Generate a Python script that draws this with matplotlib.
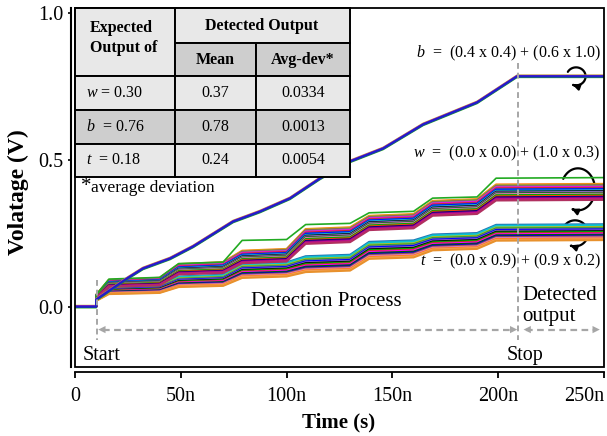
import numpy as np
import matplotlib
matplotlib.use('Agg')
import matplotlib.pyplot as plt
from matplotlib.patches import Rectangle, FancyArrowPatch
from matplotlib.path import Path
from matplotlib.transforms import Affine2D, ScaledTranslation

plt.rcParams['font.family'] = ['Liberation Serif', 'DejaVu Serif']
plt.rcParams['mathtext.fontset'] = 'custom'
plt.rcParams['mathtext.rm'] = 'Liberation Serif'
plt.rcParams['mathtext.it'] = 'Liberation Serif:italic'
plt.rcParams['mathtext.bf'] = 'Liberation Serif:bold'

# ---------------- data ----------------
# time knots in ns
T = np.array([0, 10, 10.01, 16, 40, 49, 70, 79, 100, 109, 130, 139, 160, 169, 190, 199, 250])

# b output: single tight bundle
b_time = np.array([0, 10, 10.01, 24.6, 32.1, 44.9, 55.8, 74.7, 87.4, 101.6, 115.8, 130, 145.6, 164.5, 190, 208.9, 250])
b_vals = np.array([0, 0, 0.024, 0.096, 0.130, 0.164, 0.205, 0.290, 0.324, 0.369, 0.437, 0.495, 0.539, 0.621, 0.696, 0.785, 0.785])

# w output bundle: centre and half-width at the knots
w_center = np.array([0, 0, 0.035, 0.080, 0.086, 0.128, 0.134, 0.170, 0.176, 0.240, 0.246, 0.286, 0.292, 0.336, 0.342, 0.390, 0.392])
w_halfw  = np.array([0, 0, 0.006, 0.012, 0.013, 0.018, 0.019, 0.022, 0.022, 0.026, 0.026, 0.025, 0.025, 0.026, 0.026, 0.028, 0.028])
w_outlier = np.array([0, 0, 0.040, 0.094, 0.100, 0.147, 0.152, 0.226, 0.229, 0.280, 0.284, 0.320, 0.325, 0.370, 0.374, 0.438, 0.440])
w_offsets = [0.95, 0.86, 0.78, 0.70, 0.58, 0.48, 0.36, 0.30, 0.18, 0.06, -0.03, -0.15, -0.24, -0.36, -0.50, -0.62, -0.74, -0.86, -1.0]
w_colors = ['#ff7f0e', '#bcbd22', '#8c564b', '#7f7f7f', '#ff00ff', '#d62728', '#1f77b4',
            '#0000ff', '#17becf', '#000000', '#9467bd', '#006400', '#e377c2', '#00aa00',
            '#ff4500', '#000080', '#8b008b', '#c71585', '#b03060']

# t output bundle
t_center = np.array([0, 0, 0.025, 0.055, 0.060, 0.085, 0.090, 0.122, 0.127, 0.145, 0.150, 0.192, 0.197, 0.219, 0.224, 0.252, 0.254])
t_halfw  = np.array([0, 0, 0.005, 0.012, 0.013, 0.018, 0.019, 0.024, 0.024, 0.027, 0.027, 0.029, 0.029, 0.027, 0.027, 0.027, 0.027])
t_offsets = [1.0, 0.88, 0.76, 0.66, 0.55, 0.44, 0.35, 0.22, 0.12, 0.02, -0.10, -0.20, -0.32, -0.45, -0.56, -0.68, -0.80, -0.90, -1.0]
t_colors = ['#1f77b4', '#17becf', '#00ced1', '#bcbd22', '#2ca02c', '#7f7f7f', '#0000ff',
            '#9467bd', '#000000', '#00aa00', '#d62728', '#ff00ff', '#006400', '#0000cd',
            '#8c564b', '#e377c2', '#ff7f0e', '#f4a460', '#e8912d']

x_ticks = [0, 50, 100, 150, 200, 250]
x_ticklabels = ['0', '50n', '100n', '150n', '200n', '250n']
y_ticks = [0.0, 0.5, 1.0]
y_ticklabels = ['0.0', '0.5', '1.0']

# table contents
tab_rows = [('$w$ = 0.30', '0.37', '0.0334'),
            ('$b$  = 0.76', '0.78', '0.0013'),
            ('$t$  = 0.18', '0.24', '0.0054')]

formulas = ['$b$  =  (0.4 x 0.4) + (0.6 x 1.0)',
            '$w$  =  (0.0 x 0.0) + (1.0 x 0.3)',
            '$t$  =  (0.0 x 0.9) + (0.9 x 0.2)']
formula_y = [0.863, 0.522, 0.154]

# ---------------- figure ----------------
W, H = 607, 436
fig = plt.figure(figsize=(W / 100, H / 100), dpi=100)
ax = fig.add_axes([75 / W, 1 - 367 / H, 529 / W, 359 / H])
ax.set_xlim(0, 250)
ax.set_ylim(-0.2055, 1.018)

# bundles
for off, col in zip(t_offsets, t_colors):
    ax.plot(T, t_center + off * t_halfw, color=col, lw=1.5, solid_joinstyle='round')
for off, col in zip(w_offsets, w_colors):
    ax.plot(T, w_center + off * w_halfw, color=col, lw=1.5, solid_joinstyle='round')
ax.plot(T, w_outlier, color='#22aa22', lw=1.2)

# b lines
ax.plot(b_time, b_vals + 0.004, color='#bcbd22', lw=1.1)
ax.plot(b_time, b_vals - 0.003, color='#22aa22', lw=1.3)
ax.plot(b_time, b_vals + 0.002, color='#cc00cc', lw=1.3)
ax.plot(b_time, b_vals, color='#2020c8', lw=1.7)

# dashed guide lines
gray = '#a6a6a6'
ax.plot([10.2, 10.2], [0.092, -0.115], ls=(0, (3, 2)), color=gray, lw=1.4)
ax.plot([209.5, 209.5], [0.83, -0.115], ls=(0, (3, 2)), color=gray, lw=1.4)
ya = -0.078
ax.plot([13, 207], [ya, ya], ls=(0, (3, 2)), color=gray, lw=1.6)
ax.plot([213, 245], [ya, ya], ls=(0, (3, 2)), color=gray, lw=1.6)
for x0, x1 in [(16, 11), (204, 209), (217, 212), (243, 248)]:
    ax.annotate('', xy=(x1, ya), xytext=(x0, ya),
                arrowprops=dict(arrowstyle='-|>', color=gray, lw=0.01, mutation_scale=13, shrinkA=0, shrinkB=0))

# texts inside plot
ax.text(118.6, 0.017, 'Detection Process', fontsize=15, ha='center', va='center')
ax.text(211.3, 0.003, 'Detected\noutput', fontsize=15, ha='left', va='center', linespacing=1.1)
ax.text(3.8, -0.165, 'Start', fontsize=14.5, ha='left', va='center')
ax.text(212.5, -0.165, 'Stop', fontsize=14.5, ha='center', va='center')
for s, yy in zip(formulas, formula_y):
    ax.text(248.5, yy, s, fontsize=11.5, ha='right', va='center')

# curled arrows
def curl(cx, cy, rx, ry):
    ang = np.radians(np.linspace(150, -112, 80))
    verts = np.column_stack([rx * np.cos(ang), ry * np.sin(ang)])
    tr = Affine2D() + ScaledTranslation(cx, cy, ax.transData)
    arr = FancyArrowPatch(path=Path(verts), arrowstyle='-|>', mutation_scale=9,
                          lw=1.6, color='k', transform=tr, clip_on=False)
    ax.add_artist(arr)

curl(236.8, 0.785, 9.5, 9)
curl(237.7, 0.40, 17, 21)
curl(236.3, 0.25, 13, 13)

# axes styling
ax.spines['top'].set_visible(False)
ax.spines['right'].set_visible(False)
ax.spines['left'].set_position(('outward', 3.2))
ax.spines['bottom'].set_position(('outward', 3.6))
ax.spines['left'].set_linewidth(1.5)
ax.spines['bottom'].set_linewidth(1.3)
ax.add_patch(Rectangle((0, 0), 1, 1, transform=ax.transAxes, fill=False, lw=1.3,
                       ec='k', clip_on=False, zorder=5))
ax.set_xticks(x_ticks)
ax.set_xticklabels(x_ticklabels)
ax.set_yticks(y_ticks)
ax.set_yticklabels(y_ticklabels)
ax.tick_params(axis='x', direction='out', length=4.5, width=1.3, pad=6, labelsize=14.5)
ax.tick_params(axis='y', direction='out', length=2.5, width=1.2, pad=2.5, labelsize=14.5)
ax.get_xticklabels()[-1].set_horizontalalignment('right')
ax.get_xticklabels()[-1].set_x(251)

fig.text(339 / W, 1 - 422 / H, 'Time (s)', fontsize=15, fontweight='bold', ha='center', va='center')
fig.text(18 / W, 1 - 192 / H, 'Volatage (V)', fontsize=17, fontweight='bold', ha='center',
         va='center', rotation=90)

# ---------------- table ----------------
def fx(px):
    return px / W

def fy(py):
    return 1 - py / H

light, dark = '#e8e8e8', '#cecece'
cells = [((75, 8, 175, 76), light), ((175, 8, 350, 43), light), ((175, 43, 256, 76), dark),
         ((256, 43, 350, 76), dark)]
row_y = [(76, 110), (110, 144), (144, 177)]
row_fill = [light, dark, light]
cols = [(75, 175), (175, 256), (256, 350)]
for (y0, y1), fc in zip(row_y, row_fill):
    for (x0, x1) in cols:
        cells.append(((x0, y0, x1, y1), fc))
for (x0, y0, x1, y1), fc in cells:
    fig.add_artist(Rectangle((fx(x0), fy(y1)), fx(x1) - fx(x0), fy(y0) - fy(y1),
                             transform=fig.transFigure, fc=fc, ec='k', lw=1.4, zorder=10))

fig.text(fx(90), fy(38), 'Expected\nOutput of', fontsize=11.5, fontweight='bold', ha='left',
         va='center', linespacing=1.3, zorder=11)
fig.text(fx(262), fy(26), 'Detected Output', fontsize=11.5, fontweight='bold', ha='center',
         va='center', zorder=11)
fig.text(fx(215), fy(60), 'Mean', fontsize=11.5, fontweight='bold', ha='center', va='center', zorder=11)
fig.text(fx(303), fy(60), 'Avg-dev*', fontsize=11.5, fontweight='bold', ha='center', va='center', zorder=11)
for (y0, y1), (c1, c2, c3) in zip(row_y, tab_rows):
    ym = fy((y0 + y1) / 2)
    fig.text(fx(86), ym, c1, fontsize=11.5, ha='left', va='center', zorder=11)
    fig.text(fx(215), ym, c2, fontsize=11.5, ha='center', va='center', zorder=11)
    fig.text(fx(303), ym, c3, fontsize=11.5, ha='center', va='center', zorder=11)
fig.text(fx(81), fy(186), '*', fontsize=15, ha='left', va='center', zorder=11)
fig.text(fx(91), fy(188), 'average deviation', fontsize=12.5, ha='left', va='center', zorder=11)

fig.savefig('out.png', dpi=100)
